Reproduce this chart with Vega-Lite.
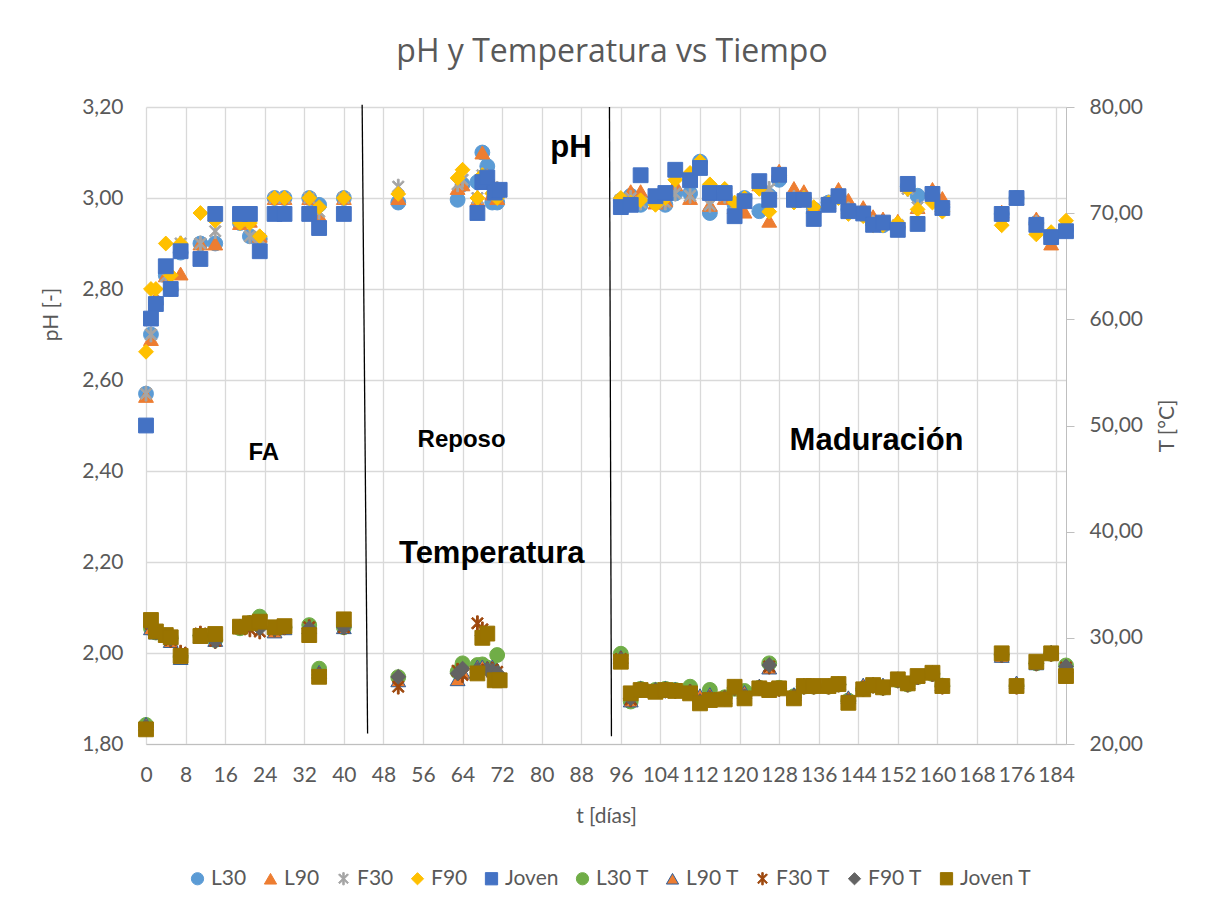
{
  "$schema": "https://vega.github.io/schema/vega-lite/v6.json",
  "width": 920,
  "height": 637,
  "autosize": {"type": "none"},
  "padding": {"left": 146, "top": 107, "right": 152, "bottom": 165},
  "background": "white",
  "title": {"text": "pH y Temperatura vs Tiempo", "font": "Open Sans", "fontSize": 32, "fontWeight": "normal", "color": "#595959", "anchor": "middle", "frame": "group", "baseline": "alphabetic", "offset": 2, "dx": 6},
  "config": {
    "locale": {"number": {"decimal": ",", "thousands": ".", "grouping": [3], "currency": ["", " €"]}},
    "view": {"stroke": null},
    "axis": {"labelFont": "Lato", "labelFontSize": 21, "labelColor": "#595959", "titleFont": "Lato", "titleFontSize": 21, "titleFontWeight": "normal", "titleColor": "#595959", "gridColor": "#D9D9D9", "gridWidth": 1.3, "domainColor": "#BFBFBF", "tickColor": "#BFBFBF"},
    "axisX": {"labelOverlap": false, "labelFlush": false},
    "legend": {"labelFont": "Lato", "labelFontSize": 21, "labelColor": "#595959", "symbolSize": 150, "columnPadding": 13, "labelOffset": 3, "padding": 0, "symbolStrokeWidth": 1}
  },
  "datasets": {
    "ph": [
      {"s":"L30","t":0,"v":2.57},{"s":"L30","t":1,"v":2.70},{"s":"L30","t":2,"v":2.77},{"s":"L30","t":4,"v":2.83},{"s":"L30","t":5,"v":2.80},{"s":"L30","t":7,"v":2.88},{"s":"L30","t":11,"v":2.90},{"s":"L30","t":14,"v":2.90},{"s":"L30","t":19,"v":2.945},{"s":"L30","t":21,"v":2.916},{"s":"L30","t":23,"v":2.91},{"s":"L30","t":26,"v":3.00},{"s":"L30","t":28,"v":3.00},{"s":"L30","t":33,"v":3.00},{"s":"L30","t":35,"v":2.985},{"s":"L30","t":40,"v":3.00},
      {"s":"L30","t":51,"v":2.99},{"s":"L30","t":63,"v":2.996},{"s":"L30","t":64,"v":3.03},{"s":"L30","t":67,"v":3.035},{"s":"L30","t":68,"v":3.10},{"s":"L30","t":69,"v":3.07},{"s":"L30","t":70,"v":2.99},{"s":"L30","t":71,"v":2.99},
      {"s":"L30","t":96,"v":2.995},{"s":"L30","t":98,"v":3.005},{"s":"L30","t":100,"v":2.985},{"s":"L30","t":103,"v":2.995},{"s":"L30","t":105,"v":2.985},{"s":"L30","t":107,"v":3.01},{"s":"L30","t":110,"v":3.01},{"s":"L30","t":112,"v":3.08},{"s":"L30","t":114,"v":2.967},{"s":"L30","t":117,"v":3.005},{"s":"L30","t":119,"v":2.985},{"s":"L30","t":121,"v":3.00},{"s":"L30","t":124,"v":2.971},{"s":"L30","t":126,"v":3.005},{"s":"L30","t":128,"v":3.04},{"s":"L30","t":131,"v":3.00},{"s":"L30","t":133,"v":3.00},{"s":"L30","t":135,"v":2.975},{"s":"L30","t":138,"v":2.99},{"s":"L30","t":140,"v":3.005},{"s":"L30","t":142,"v":2.975},{"s":"L30","t":145,"v":2.965},{"s":"L30","t":147,"v":2.945},{"s":"L30","t":149,"v":2.94},{"s":"L30","t":152,"v":2.935},{"s":"L30","t":154,"v":3.025},{"s":"L30","t":156,"v":3.005},{"s":"L30","t":159,"v":3.005},{"s":"L30","t":161,"v":2.98},{"s":"L30","t":173,"v":2.965},{"s":"L30","t":176,"v":3.00},{"s":"L30","t":180,"v":2.945},{"s":"L30","t":183,"v":2.915},{"s":"L30","t":186,"v":2.93},
      {"s":"L90","t":0,"v":2.565},{"s":"L90","t":1,"v":2.69},{"s":"L90","t":2,"v":2.78},{"s":"L90","t":4,"v":2.83},{"s":"L90","t":5,"v":2.81},{"s":"L90","t":7,"v":2.834},{"s":"L90","t":11,"v":2.90},{"s":"L90","t":14,"v":2.90},{"s":"L90","t":19,"v":2.945},{"s":"L90","t":21,"v":2.95},{"s":"L90","t":23,"v":2.917},{"s":"L90","t":26,"v":3.00},{"s":"L90","t":28,"v":3.00},{"s":"L90","t":33,"v":3.00},{"s":"L90","t":35,"v":2.962},{"s":"L90","t":40,"v":3.00},
      {"s":"L90","t":51,"v":3.00},{"s":"L90","t":63,"v":3.022},{"s":"L90","t":64,"v":3.03},{"s":"L90","t":67,"v":2.996},{"s":"L90","t":68,"v":3.10},{"s":"L90","t":69,"v":3.05},{"s":"L90","t":70,"v":3.01},{"s":"L90","t":71,"v":3.00},
      {"s":"L90","t":96,"v":2.995},{"s":"L90","t":98,"v":3.015},{"s":"L90","t":100,"v":3.015},{"s":"L90","t":103,"v":2.99},{"s":"L90","t":105,"v":2.995},{"s":"L90","t":107,"v":3.03},{"s":"L90","t":110,"v":3.00},{"s":"L90","t":112,"v":3.07},{"s":"L90","t":114,"v":2.985},{"s":"L90","t":117,"v":3.00},{"s":"L90","t":119,"v":2.98},{"s":"L90","t":121,"v":2.97},{"s":"L90","t":124,"v":3.03},{"s":"L90","t":126,"v":2.95},{"s":"L90","t":128,"v":3.06},{"s":"L90","t":131,"v":3.022},{"s":"L90","t":133,"v":3.015},{"s":"L90","t":135,"v":2.98},{"s":"L90","t":138,"v":2.99},{"s":"L90","t":140,"v":3.02},{"s":"L90","t":142,"v":2.996},{"s":"L90","t":145,"v":2.98},{"s":"L90","t":147,"v":2.96},{"s":"L90","t":149,"v":2.955},{"s":"L90","t":152,"v":2.95},{"s":"L90","t":154,"v":3.028},{"s":"L90","t":156,"v":2.98},{"s":"L90","t":159,"v":3.02},{"s":"L90","t":161,"v":3.00},{"s":"L90","t":173,"v":2.97},{"s":"L90","t":176,"v":3.00},{"s":"L90","t":180,"v":2.955},{"s":"L90","t":183,"v":2.90},{"s":"L90","t":186,"v":2.93},
      {"s":"F30","t":0,"v":2.57},{"s":"F30","t":1,"v":2.70},{"s":"F30","t":2,"v":2.77},{"s":"F30","t":4,"v":2.828},{"s":"F30","t":5,"v":2.80},{"s":"F30","t":7,"v":2.90},{"s":"F30","t":11,"v":2.90},{"s":"F30","t":14,"v":2.927},{"s":"F30","t":19,"v":2.95},{"s":"F30","t":21,"v":2.916},{"s":"F30","t":23,"v":2.91},{"s":"F30","t":26,"v":3.00},{"s":"F30","t":28,"v":3.00},{"s":"F30","t":33,"v":3.00},{"s":"F30","t":35,"v":2.97},{"s":"F30","t":40,"v":3.00},
      {"s":"F30","t":51,"v":3.025},{"s":"F30","t":63,"v":3.03},{"s":"F30","t":64,"v":3.04},{"s":"F30","t":67,"v":3.00},{"s":"F30","t":68,"v":3.05},{"s":"F30","t":69,"v":3.04},{"s":"F30","t":70,"v":3.02},{"s":"F30","t":71,"v":3.02},
      {"s":"F30","t":96,"v":2.995},{"s":"F30","t":98,"v":3.00},{"s":"F30","t":100,"v":2.99},{"s":"F30","t":103,"v":2.995},{"s":"F30","t":105,"v":2.99},{"s":"F30","t":107,"v":3.01},{"s":"F30","t":110,"v":3.005},{"s":"F30","t":112,"v":3.07},{"s":"F30","t":114,"v":2.985},{"s":"F30","t":117,"v":3.005},{"s":"F30","t":119,"v":2.985},{"s":"F30","t":121,"v":2.995},{"s":"F30","t":124,"v":3.03},{"s":"F30","t":126,"v":3.02},{"s":"F30","t":128,"v":3.05},{"s":"F30","t":131,"v":3.00},{"s":"F30","t":133,"v":3.00},{"s":"F30","t":135,"v":2.97},{"s":"F30","t":138,"v":2.99},{"s":"F30","t":140,"v":3.005},{"s":"F30","t":142,"v":2.975},{"s":"F30","t":145,"v":2.965},{"s":"F30","t":147,"v":2.945},{"s":"F30","t":149,"v":2.945},{"s":"F30","t":152,"v":2.94},{"s":"F30","t":154,"v":3.02},{"s":"F30","t":156,"v":2.98},{"s":"F30","t":159,"v":3.005},{"s":"F30","t":161,"v":2.975},{"s":"F30","t":173,"v":2.96},{"s":"F30","t":176,"v":3.00},{"s":"F30","t":180,"v":2.945},{"s":"F30","t":183,"v":2.915},{"s":"F30","t":186,"v":2.93},
      {"s":"F90","t":0,"v":2.662},{"s":"F90","t":1,"v":2.80},{"s":"F90","t":2,"v":2.80},{"s":"F90","t":4,"v":2.90},{"s":"F90","t":5,"v":2.83},{"s":"F90","t":7,"v":2.90},{"s":"F90","t":11,"v":2.967},{"s":"F90","t":14,"v":2.95},{"s":"F90","t":19,"v":2.945},{"s":"F90","t":21,"v":2.945},{"s":"F90","t":23,"v":2.916},{"s":"F90","t":26,"v":3.00},{"s":"F90","t":28,"v":3.00},{"s":"F90","t":33,"v":3.00},{"s":"F90","t":35,"v":2.98},{"s":"F90","t":40,"v":3.00},
      {"s":"F90","t":51,"v":3.009},{"s":"F90","t":63,"v":3.044},{"s":"F90","t":64,"v":3.062},{"s":"F90","t":67,"v":3.00},{"s":"F90","t":68,"v":3.05},{"s":"F90","t":69,"v":3.04},{"s":"F90","t":70,"v":3.01},{"s":"F90","t":71,"v":3.00},
      {"s":"F90","t":96,"v":3.00},{"s":"F90","t":98,"v":2.99},{"s":"F90","t":100,"v":2.995},{"s":"F90","t":103,"v":2.985},{"s":"F90","t":105,"v":3.00},{"s":"F90","t":107,"v":3.04},{"s":"F90","t":110,"v":3.055},{"s":"F90","t":112,"v":3.08},{"s":"F90","t":114,"v":3.03},{"s":"F90","t":117,"v":3.02},{"s":"F90","t":119,"v":2.99},{"s":"F90","t":121,"v":3.00},{"s":"F90","t":124,"v":3.02},{"s":"F90","t":126,"v":2.97},{"s":"F90","t":128,"v":3.05},{"s":"F90","t":131,"v":2.99},{"s":"F90","t":133,"v":3.00},{"s":"F90","t":135,"v":2.98},{"s":"F90","t":138,"v":2.99},{"s":"F90","t":140,"v":3.00},{"s":"F90","t":142,"v":2.965},{"s":"F90","t":145,"v":2.96},{"s":"F90","t":147,"v":2.94},{"s":"F90","t":149,"v":2.94},{"s":"F90","t":152,"v":2.945},{"s":"F90","t":154,"v":3.02},{"s":"F90","t":156,"v":2.975},{"s":"F90","t":159,"v":2.99},{"s":"F90","t":161,"v":2.97},{"s":"F90","t":173,"v":2.94},{"s":"F90","t":176,"v":3.00},{"s":"F90","t":180,"v":2.92},{"s":"F90","t":183,"v":2.925},{"s":"F90","t":186,"v":2.95},
      {"s":"Joven","t":0,"v":2.50},{"s":"Joven","t":1,"v":2.735},{"s":"Joven","t":2,"v":2.767},{"s":"Joven","t":4,"v":2.85},{"s":"Joven","t":5,"v":2.80},{"s":"Joven","t":7,"v":2.883},{"s":"Joven","t":11,"v":2.866},{"s":"Joven","t":14,"v":2.965},{"s":"Joven","t":19,"v":2.965},{"s":"Joven","t":21,"v":2.965},{"s":"Joven","t":23,"v":2.883},{"s":"Joven","t":26,"v":2.965},{"s":"Joven","t":28,"v":2.965},{"s":"Joven","t":33,"v":2.965},{"s":"Joven","t":35,"v":2.934},{"s":"Joven","t":40,"v":2.965},
      {"s":"Joven","t":67,"v":2.967},{"s":"Joven","t":68,"v":3.035},{"s":"Joven","t":69,"v":3.045},{"s":"Joven","t":70.5,"v":3.012},{"s":"Joven","t":71.5,"v":3.018},
      {"s":"Joven","t":96,"v":2.98},{"s":"Joven","t":98,"v":2.985},{"s":"Joven","t":100,"v":3.05},{"s":"Joven","t":103,"v":3.004},{"s":"Joven","t":105,"v":3.011},{"s":"Joven","t":107,"v":3.062},{"s":"Joven","t":110,"v":3.039},{"s":"Joven","t":112,"v":3.066},{"s":"Joven","t":114,"v":3.011},{"s":"Joven","t":117,"v":3.011},{"s":"Joven","t":119,"v":2.96},{"s":"Joven","t":121,"v":2.993},{"s":"Joven","t":124,"v":3.037},{"s":"Joven","t":126,"v":2.996},{"s":"Joven","t":128,"v":3.051},{"s":"Joven","t":131,"v":2.996},{"s":"Joven","t":133,"v":2.996},{"s":"Joven","t":135,"v":2.954},{"s":"Joven","t":138,"v":2.985},{"s":"Joven","t":140,"v":3.004},{"s":"Joven","t":142,"v":2.971},{"s":"Joven","t":145,"v":2.966},{"s":"Joven","t":147,"v":2.941},{"s":"Joven","t":149,"v":2.946},{"s":"Joven","t":152,"v":2.93},{"s":"Joven","t":154,"v":3.031},{"s":"Joven","t":156,"v":2.943},{"s":"Joven","t":159,"v":3.009},{"s":"Joven","t":161,"v":2.978},{"s":"Joven","t":173,"v":2.965},{"s":"Joven","t":176,"v":3.00},{"s":"Joven","t":180,"v":2.941},{"s":"Joven","t":183,"v":2.914},{"s":"Joven","t":186,"v":2.927}
    ],
    "temp": [
      {"s":"L30 T","t":0,"v":21.8},{"s":"L30 T","t":1,"v":30.9},{"s":"L30 T","t":2,"v":30.5},{"s":"L30 T","t":4,"v":30.2},{"s":"L30 T","t":5,"v":30.0},{"s":"L30 T","t":7,"v":28.2},{"s":"L30 T","t":11,"v":30.2},{"s":"L30 T","t":14,"v":29.8},{"s":"L30 T","t":19,"v":30.9},{"s":"L30 T","t":21,"v":31.4},{"s":"L30 T","t":23,"v":32.0},{"s":"L30 T","t":26,"v":30.8},{"s":"L30 T","t":28,"v":31.0},{"s":"L30 T","t":33,"v":31.2},{"s":"L30 T","t":35,"v":27.1},{"s":"L30 T","t":40,"v":31.0},
      {"s":"L30 T","t":51,"v":26.3},{"s":"L30 T","t":63,"v":26.8},{"s":"L30 T","t":64,"v":27.6},{"s":"L30 T","t":67,"v":27.44},{"s":"L30 T","t":68,"v":27.5},{"s":"L30 T","t":69,"v":27.2},{"s":"L30 T","t":70,"v":27.1},{"s":"L30 T","t":71,"v":28.38},
      {"s":"L30 T","t":96,"v":28.5},{"s":"L30 T","t":98,"v":24.0},{"s":"L30 T","t":100,"v":25.2},{"s":"L30 T","t":103,"v":25.1},{"s":"L30 T","t":105,"v":25.2},{"s":"L30 T","t":107,"v":25.1},{"s":"L30 T","t":110,"v":25.4},{"s":"L30 T","t":112,"v":24.2},{"s":"L30 T","t":114,"v":25.1},{"s":"L30 T","t":117,"v":24.4},{"s":"L30 T","t":119,"v":25.2},{"s":"L30 T","t":121,"v":25.0},{"s":"L30 T","t":124,"v":25.3},{"s":"L30 T","t":126,"v":27.6},{"s":"L30 T","t":128,"v":25.3},{"s":"L30 T","t":131,"v":24.5},{"s":"L30 T","t":133,"v":25.4},{"s":"L30 T","t":135,"v":25.4},{"s":"L30 T","t":138,"v":25.4},{"s":"L30 T","t":140,"v":25.6},{"s":"L30 T","t":142,"v":24.1},{"s":"L30 T","t":145,"v":25.2},{"s":"L30 T","t":147,"v":25.5},{"s":"L30 T","t":149,"v":25.3},{"s":"L30 T","t":152,"v":26.0},{"s":"L30 T","t":154,"v":25.6},{"s":"L30 T","t":156,"v":26.3},{"s":"L30 T","t":159,"v":26.6},{"s":"L30 T","t":161,"v":25.5},{"s":"L30 T","t":173,"v":28.4},{"s":"L30 T","t":176,"v":25.5},{"s":"L30 T","t":180,"v":27.6},{"s":"L30 T","t":183,"v":28.5},{"s":"L30 T","t":186,"v":27.4},
      {"s":"L90 T","t":0,"v":21.9},{"s":"L90 T","t":1,"v":30.9},{"s":"L90 T","t":2,"v":30.5},{"s":"L90 T","t":4,"v":30.3},{"s":"L90 T","t":5,"v":29.7},{"s":"L90 T","t":7,"v":28.1},{"s":"L90 T","t":11,"v":30.1},{"s":"L90 T","t":14,"v":29.8},{"s":"L90 T","t":19,"v":31.1},{"s":"L90 T","t":21,"v":31.5},{"s":"L90 T","t":23,"v":31.6},{"s":"L90 T","t":26,"v":30.6},{"s":"L90 T","t":28,"v":30.9},{"s":"L90 T","t":33,"v":31.0},{"s":"L90 T","t":35,"v":26.8},{"s":"L90 T","t":40,"v":31.0},
      {"s":"L90 T","t":51,"v":26.0},{"s":"L90 T","t":63,"v":26.1},{"s":"L90 T","t":64,"v":26.8},{"s":"L90 T","t":67,"v":27.3},{"s":"L90 T","t":68,"v":27.3},{"s":"L90 T","t":69,"v":27.2},{"s":"L90 T","t":70,"v":27.3},{"s":"L90 T","t":71,"v":27.0},
      {"s":"L90 T","t":96,"v":28.2},{"s":"L90 T","t":98,"v":24.1},{"s":"L90 T","t":100,"v":25.3},{"s":"L90 T","t":103,"v":25.2},{"s":"L90 T","t":105,"v":25.3},{"s":"L90 T","t":107,"v":25.2},{"s":"L90 T","t":110,"v":25.0},{"s":"L90 T","t":112,"v":24.6},{"s":"L90 T","t":114,"v":24.7},{"s":"L90 T","t":117,"v":24.4},{"s":"L90 T","t":119,"v":25.4},{"s":"L90 T","t":121,"v":24.9},{"s":"L90 T","t":124,"v":25.5},{"s":"L90 T","t":126,"v":27.2},{"s":"L90 T","t":128,"v":25.3},{"s":"L90 T","t":131,"v":24.7},{"s":"L90 T","t":133,"v":25.6},{"s":"L90 T","t":135,"v":25.5},{"s":"L90 T","t":138,"v":25.5},{"s":"L90 T","t":140,"v":25.7},{"s":"L90 T","t":142,"v":24.4},{"s":"L90 T","t":145,"v":25.6},{"s":"L90 T","t":147,"v":25.7},{"s":"L90 T","t":149,"v":25.6},{"s":"L90 T","t":152,"v":26.2},{"s":"L90 T","t":154,"v":25.8},{"s":"L90 T","t":156,"v":26.4},{"s":"L90 T","t":159,"v":26.8},{"s":"L90 T","t":161,"v":25.6},{"s":"L90 T","t":173,"v":28.3},{"s":"L90 T","t":176,"v":25.8},{"s":"L90 T","t":180,"v":27.6},{"s":"L90 T","t":183,"v":28.7},{"s":"L90 T","t":186,"v":27.3},
      {"s":"F30 T","t":0,"v":21.5},{"s":"F30 T","t":1,"v":31.3},{"s":"F30 T","t":2,"v":30.6},{"s":"F30 T","t":4,"v":30.1},{"s":"F30 T","t":5,"v":29.8},{"s":"F30 T","t":7,"v":28.6},{"s":"F30 T","t":11,"v":30.4},{"s":"F30 T","t":14,"v":29.7},{"s":"F30 T","t":19,"v":31.0},{"s":"F30 T","t":21,"v":30.8},{"s":"F30 T","t":23,"v":30.6},{"s":"F30 T","t":26,"v":30.8},{"s":"F30 T","t":28,"v":31.0},{"s":"F30 T","t":33,"v":31.0},{"s":"F30 T","t":35,"v":26.5},{"s":"F30 T","t":40,"v":31.0},
      {"s":"F30 T","t":51,"v":25.4},{"s":"F30 T","t":63,"v":26.9},{"s":"F30 T","t":64,"v":26.5},{"s":"F30 T","t":67,"v":31.37},{"s":"F30 T","t":68,"v":30.8},{"s":"F30 T","t":69,"v":27.0},{"s":"F30 T","t":70,"v":27.0},{"s":"F30 T","t":71,"v":26.8},
      {"s":"F30 T","t":96,"v":28.0},{"s":"F30 T","t":98,"v":24.2},{"s":"F30 T","t":100,"v":25.1},{"s":"F30 T","t":103,"v":25.0},{"s":"F30 T","t":105,"v":25.1},{"s":"F30 T","t":107,"v":25.0},{"s":"F30 T","t":110,"v":24.9},{"s":"F30 T","t":112,"v":24.0},{"s":"F30 T","t":114,"v":24.3},{"s":"F30 T","t":117,"v":24.3},{"s":"F30 T","t":119,"v":25.3},{"s":"F30 T","t":121,"v":24.4},{"s":"F30 T","t":124,"v":25.3},{"s":"F30 T","t":126,"v":27.3},{"s":"F30 T","t":128,"v":25.2},{"s":"F30 T","t":131,"v":24.4},{"s":"F30 T","t":133,"v":25.4},{"s":"F30 T","t":135,"v":25.4},{"s":"F30 T","t":138,"v":25.4},{"s":"F30 T","t":140,"v":25.6},{"s":"F30 T","t":142,"v":24.0},{"s":"F30 T","t":145,"v":25.2},{"s":"F30 T","t":147,"v":25.5},{"s":"F30 T","t":149,"v":25.3},{"s":"F30 T","t":152,"v":26.0},{"s":"F30 T","t":154,"v":25.6},{"s":"F30 T","t":156,"v":26.3},{"s":"F30 T","t":159,"v":26.6},{"s":"F30 T","t":161,"v":25.4},{"s":"F30 T","t":173,"v":28.4},{"s":"F30 T","t":176,"v":25.4},{"s":"F30 T","t":180,"v":27.6},{"s":"F30 T","t":183,"v":28.5},{"s":"F30 T","t":186,"v":27.2},
      {"s":"F90 T","t":0,"v":21.6},{"s":"F90 T","t":1,"v":31.2},{"s":"F90 T","t":2,"v":30.5},{"s":"F90 T","t":4,"v":30.2},{"s":"F90 T","t":5,"v":29.9},{"s":"F90 T","t":7,"v":28.3},{"s":"F90 T","t":11,"v":30.2},{"s":"F90 T","t":14,"v":29.7},{"s":"F90 T","t":19,"v":31.0},{"s":"F90 T","t":21,"v":31.3},{"s":"F90 T","t":23,"v":30.9},{"s":"F90 T","t":26,"v":30.8},{"s":"F90 T","t":28,"v":31.0},{"s":"F90 T","t":33,"v":30.9},{"s":"F90 T","t":35,"v":26.5},{"s":"F90 T","t":40,"v":31.0},
      {"s":"F90 T","t":51,"v":26.33},{"s":"F90 T","t":63,"v":26.65},{"s":"F90 T","t":64,"v":27.1},{"s":"F90 T","t":67,"v":27.0},{"s":"F90 T","t":68,"v":30.2},{"s":"F90 T","t":69,"v":27.0},{"s":"F90 T","t":70,"v":26.9},{"s":"F90 T","t":71,"v":26.7},
      {"s":"F90 T","t":96,"v":28.0},{"s":"F90 T","t":98,"v":24.3},{"s":"F90 T","t":100,"v":25.2},{"s":"F90 T","t":103,"v":25.1},{"s":"F90 T","t":105,"v":25.0},{"s":"F90 T","t":107,"v":25.0},{"s":"F90 T","t":110,"v":24.9},{"s":"F90 T","t":112,"v":24.0},{"s":"F90 T","t":114,"v":24.3},{"s":"F90 T","t":117,"v":24.3},{"s":"F90 T","t":119,"v":25.3},{"s":"F90 T","t":121,"v":24.5},{"s":"F90 T","t":124,"v":25.3},{"s":"F90 T","t":126,"v":27.44},{"s":"F90 T","t":128,"v":25.2},{"s":"F90 T","t":131,"v":24.4},{"s":"F90 T","t":133,"v":25.4},{"s":"F90 T","t":135,"v":25.4},{"s":"F90 T","t":138,"v":25.4},{"s":"F90 T","t":140,"v":25.6},{"s":"F90 T","t":142,"v":24.0},{"s":"F90 T","t":145,"v":25.2},{"s":"F90 T","t":147,"v":25.5},{"s":"F90 T","t":149,"v":25.3},{"s":"F90 T","t":152,"v":26.0},{"s":"F90 T","t":154,"v":25.6},{"s":"F90 T","t":156,"v":26.3},{"s":"F90 T","t":159,"v":26.6},{"s":"F90 T","t":161,"v":25.4},{"s":"F90 T","t":173,"v":28.4},{"s":"F90 T","t":176,"v":25.4},{"s":"F90 T","t":180,"v":27.6},{"s":"F90 T","t":183,"v":28.5},{"s":"F90 T","t":186,"v":27.3},
      {"s":"Joven T","t":0,"v":21.38},{"s":"Joven T","t":1,"v":31.68},{"s":"Joven T","t":2,"v":30.6},{"s":"Joven T","t":4,"v":30.26},{"s":"Joven T","t":5,"v":30.05},{"s":"Joven T","t":7,"v":28.3},{"s":"Joven T","t":11,"v":30.17},{"s":"Joven T","t":14,"v":30.36},{"s":"Joven T","t":19,"v":31.05},{"s":"Joven T","t":21,"v":31.37},{"s":"Joven T","t":23,"v":31.52},{"s":"Joven T","t":26,"v":30.99},{"s":"Joven T","t":28,"v":31.1},{"s":"Joven T","t":33,"v":30.26},{"s":"Joven T","t":35,"v":26.33},{"s":"Joven T","t":40,"v":31.74},
      {"s":"Joven T","t":67,"v":26.65},{"s":"Joven T","t":68,"v":30.0},{"s":"Joven T","t":69,"v":30.4},{"s":"Joven T","t":70.5,"v":26.0},{"s":"Joven T","t":71.5,"v":26.0},
      {"s":"Joven T","t":96,"v":27.75},{"s":"Joven T","t":98,"v":24.77},{"s":"Joven T","t":100,"v":25.08},{"s":"Joven T","t":103,"v":24.92},{"s":"Joven T","t":105,"v":25.08},{"s":"Joven T","t":107,"v":25.0},{"s":"Joven T","t":110,"v":24.77},{"s":"Joven T","t":112,"v":23.83},{"s":"Joven T","t":114,"v":24.14},{"s":"Joven T","t":117,"v":24.2},{"s":"Joven T","t":119,"v":25.39},{"s":"Joven T","t":121,"v":24.3},{"s":"Joven T","t":124,"v":25.24},{"s":"Joven T","t":126,"v":25.08},{"s":"Joven T","t":128,"v":25.24},{"s":"Joven T","t":131,"v":24.3},{"s":"Joven T","t":133,"v":25.46},{"s":"Joven T","t":135,"v":25.46},{"s":"Joven T","t":138,"v":25.46},{"s":"Joven T","t":140,"v":25.65},{"s":"Joven T","t":142,"v":23.88},{"s":"Joven T","t":145,"v":25.15},{"s":"Joven T","t":147,"v":25.55},{"s":"Joven T","t":149,"v":25.34},{"s":"Joven T","t":152,"v":26.09},{"s":"Joven T","t":154,"v":25.71},{"s":"Joven T","t":156,"v":26.4},{"s":"Joven T","t":159,"v":26.71},{"s":"Joven T","t":161,"v":25.46},{"s":"Joven T","t":173,"v":28.54},{"s":"Joven T","t":176,"v":25.46},{"s":"Joven T","t":180,"v":27.75},{"s":"Joven T","t":183,"v":28.54},{"s":"Joven T","t":186,"v":26.4}
    ],
    "lines": [
      {"t":43.7,"y":3.205,"t2":44.8,"y2":1.823},
      {"t":93.7,"y":3.20,"t2":94.1,"y2":1.817}
    ],
    "labelsBig": [
      {"label":"pH","t":85.9,"y":3.11},
      {"label":"Maduración","t":147.7,"y":2.467},
      {"label":"Temperatura","t":69.9,"y":2.218}
    ],
    "labelsSmall": [
      {"label":"FA","t":23.8,"y":2.44},
      {"label":"Reposo","t":63.8,"y":2.469}
    ]
  },
  "layer": [
    {
      "layer": [
        {
          "data": {"name": "ph"},
          "mark": {"type": "point", "filled": true, "size": 220, "opacity": 1, "strokeWidth": 1},
          "encoding": {
            "x": {"field": "t", "type": "quantitative", "scale": {"domain": [0, 186], "nice": false, "zero": false},
                  "axis": {"values": [0,8,16,24,32,40,48,56,64,72,80,88,96,104,112,120,128,136,144,152,160,168,176,184], "format": "d", "title": "t [días]", "grid": true, "ticks": false, "tickSize": 0, "domain": true, "domainColor": "#BFBFBF", "labelPadding": 20, "titlePadding": 20, "labelFlush": false, "labelOverlap": false}},
            "y": {"field": "v", "type": "quantitative", "scale": {"domain": [1.8, 3.2], "nice": false, "zero": false},
                  "axis": {"orient": "left", "values": [1.8,2.0,2.2,2.4,2.6,2.8,3.0,3.2], "format": ".2f", "title": "pH [-]", "grid": true, "domain": false, "ticks": false, "tickSize": 0, "labelPadding": 23, "titlePadding": 20, "titleY": 207}},
            "fill": {"field": "s", "type": "nominal",
                     "scale": {"domain": ["L30","L90","F30","F90","Joven","L30 T","L90 T","F30 T","F90 T","Joven T"], "range": ["#5B9BD5","#ED7D31","#A5A5A5","#FFC000","#4472C4","#70AD47","#ED7D31","#9E480E","#636363","#997300"]},
                     "legend": {"title": null, "orient": "none", "legendX": 41, "legendY": 761, "direction": "horizontal", "columns": 10}},
            "stroke": {"field": "s", "type": "nominal",
                     "scale": {"domain": ["L30","L90","F30","F90","Joven","L30 T","L90 T","F30 T","F90 T","Joven T"], "range": ["#5B9BD5","#ED7D31","#A5A5A5","#FFC000","#4472C4","#70AD47","#2E5E9A","#9E480E","#636363","#997300"]},
                     "legend": {"title": null, "orient": "none", "legendX": 41, "legendY": 761, "direction": "horizontal", "columns": 10}},
            "shape": {"field": "s", "type": "nominal",
                     "scale": {"domain": ["L30","L90","F30","F90","Joven","L30 T","L90 T","F30 T","F90 T","Joven T"], "range": ["circle","triangle-up","M-0.12,-1L0.12,-1L0.12,1L-0.12,1ZM-0.635,-0.805L0.805,0.635L0.635,0.805L-0.805,-0.635ZM-0.805,0.635L0.635,-0.805L0.805,-0.635L-0.635,0.805Z","diamond","square","circle","triangle-up","M-0.12,-1L0.12,-1L0.12,1L-0.12,1ZM-0.635,-0.805L0.805,0.635L0.635,0.805L-0.805,-0.635ZM-0.805,0.635L0.635,-0.805L0.805,-0.635L-0.635,0.805Z","diamond","square"]},
                     "legend": {"title": null, "orient": "none", "legendX": 41, "legendY": 761, "direction": "horizontal", "columns": 10}}
          }
        },
        {
          "data": {"name": "lines"},
          "mark": {"type": "rule", "color": "#000000", "strokeWidth": 1.3},
          "encoding": {
            "x": {"field": "t", "type": "quantitative", "scale": {"domain": [0, 186], "nice": false, "zero": false},
                  "axis": {"values": [0,8,16,24,32,40,48,56,64,72,80,88,96,104,112,120,128,136,144,152,160,168,176,184], "format": "d", "title": "t [días]", "grid": true, "ticks": false, "tickSize": 0, "domain": true, "domainColor": "#BFBFBF", "labelPadding": 20, "titlePadding": 20, "labelFlush": false, "labelOverlap": false}},
            "x2": {"field": "t2"},
            "y": {"field": "y", "type": "quantitative", "scale": {"domain": [1.8, 3.2], "nice": false, "zero": false},
                  "axis": {"orient": "left", "values": [1.8,2.0,2.2,2.4,2.6,2.8,3.0,3.2], "format": ".2f", "title": "pH [-]", "grid": true, "domain": false, "ticks": false, "tickSize": 0, "labelPadding": 23, "titlePadding": 20, "titleY": 207}},
            "y2": {"field": "y2"}
          }
        },
        {
          "data": {"name": "labelsBig"},
          "mark": {"type": "text", "font": "Liberation Sans", "fontWeight": "bold", "fontSize": 31, "color": "#000000", "align": "center", "baseline": "middle"},
          "encoding": {
            "x": {"field": "t", "type": "quantitative", "scale": {"domain": [0, 186], "nice": false, "zero": false},
                  "axis": {"values": [0,8,16,24,32,40,48,56,64,72,80,88,96,104,112,120,128,136,144,152,160,168,176,184], "format": "d", "title": "t [días]", "grid": true, "ticks": false, "tickSize": 0, "domain": true, "domainColor": "#BFBFBF", "labelPadding": 20, "titlePadding": 20, "labelFlush": false, "labelOverlap": false}},
            "y": {"field": "y", "type": "quantitative", "scale": {"domain": [1.8, 3.2], "nice": false, "zero": false},
                  "axis": {"orient": "left", "values": [1.8,2.0,2.2,2.4,2.6,2.8,3.0,3.2], "format": ".2f", "title": "pH [-]", "grid": true, "domain": false, "ticks": false, "tickSize": 0, "labelPadding": 23, "titlePadding": 20, "titleY": 207}},
            "text": {"field": "label"}
          }
        },
        {
          "data": {"name": "labelsSmall"},
          "mark": {"type": "text", "font": "Liberation Sans", "fontWeight": "bold", "fontSize": 24, "color": "#000000", "align": "center", "baseline": "middle"},
          "encoding": {
            "x": {"field": "t", "type": "quantitative", "scale": {"domain": [0, 186], "nice": false, "zero": false},
                  "axis": {"values": [0,8,16,24,32,40,48,56,64,72,80,88,96,104,112,120,128,136,144,152,160,168,176,184], "format": "d", "title": "t [días]", "grid": true, "ticks": false, "tickSize": 0, "domain": true, "domainColor": "#BFBFBF", "labelPadding": 20, "titlePadding": 20, "labelFlush": false, "labelOverlap": false}},
            "y": {"field": "y", "type": "quantitative", "scale": {"domain": [1.8, 3.2], "nice": false, "zero": false},
                  "axis": {"orient": "left", "values": [1.8,2.0,2.2,2.4,2.6,2.8,3.0,3.2], "format": ".2f", "title": "pH [-]", "grid": true, "domain": false, "ticks": false, "tickSize": 0, "labelPadding": 23, "titlePadding": 20, "titleY": 207}},
            "text": {"field": "label"}
          }
        }
      ]
    },
    {
      "data": {"name": "temp"},
      "mark": {"type": "point", "filled": true, "size": 220, "opacity": 1, "strokeWidth": 1},
      "encoding": {
        "x": {"field": "t", "type": "quantitative", "scale": {"domain": [0, 186], "nice": false, "zero": false},
              "axis": {"values": [0,8,16,24,32,40,48,56,64,72,80,88,96,104,112,120,128,136,144,152,160,168,176,184], "format": "d", "title": "t [días]", "grid": true, "ticks": false, "tickSize": 0, "domain": true, "domainColor": "#BFBFBF", "labelPadding": 20, "titlePadding": 20, "labelFlush": false, "labelOverlap": false}},
        "y": {"field": "v", "type": "quantitative", "scale": {"domain": [20, 80], "nice": false, "zero": false},
              "axis": {"orient": "right", "values": [20,30,40,50,60,70,80], "format": ".2f", "title": "T [°C]", "grid": false, "domain": true, "domainColor": "#BFBFBF", "ticks": true, "tickSize": 8, "tickColor": "#BFBFBF", "labelPadding": 15, "titlePadding": 35, "titleAngle": 270}},
        "fill": {"field": "s", "type": "nominal",
                 "scale": {"domain": ["L30","L90","F30","F90","Joven","L30 T","L90 T","F30 T","F90 T","Joven T"], "range": ["#5B9BD5","#ED7D31","#A5A5A5","#FFC000","#4472C4","#70AD47","#ED7D31","#9E480E","#636363","#997300"]},
                 "legend": {"title": null, "orient": "none", "legendX": 41, "legendY": 761, "direction": "horizontal", "columns": 10}},
        "stroke": {"field": "s", "type": "nominal",
                 "scale": {"domain": ["L30","L90","F30","F90","Joven","L30 T","L90 T","F30 T","F90 T","Joven T"], "range": ["#5B9BD5","#ED7D31","#A5A5A5","#FFC000","#4472C4","#70AD47","#2E5E9A","#9E480E","#636363","#997300"]},
                 "legend": {"title": null, "orient": "none", "legendX": 41, "legendY": 761, "direction": "horizontal", "columns": 10}},
        "shape": {"field": "s", "type": "nominal",
                 "scale": {"domain": ["L30","L90","F30","F90","Joven","L30 T","L90 T","F30 T","F90 T","Joven T"], "range": ["circle","triangle-up","M-0.12,-1L0.12,-1L0.12,1L-0.12,1ZM-0.635,-0.805L0.805,0.635L0.635,0.805L-0.805,-0.635ZM-0.805,0.635L0.635,-0.805L0.805,-0.635L-0.635,0.805Z","diamond","square","circle","triangle-up","M-0.12,-1L0.12,-1L0.12,1L-0.12,1ZM-0.635,-0.805L0.805,0.635L0.635,0.805L-0.805,-0.635ZM-0.805,0.635L0.635,-0.805L0.805,-0.635L-0.635,0.805Z","diamond","square"]},
                 "legend": {"title": null, "orient": "none", "legendX": 41, "legendY": 761, "direction": "horizontal", "columns": 10}}
      }
    }
  ],
  "resolve": {"scale": {"y": "independent"}}
}
